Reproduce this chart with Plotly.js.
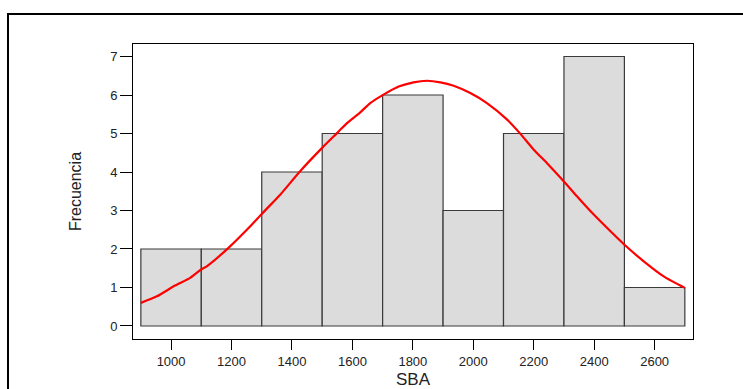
<!DOCTYPE html>
<html>
<head>
<meta charset="utf-8">
<script src="https://cdn.plot.ly/plotly-3.0.1.min.js"></script>
<style>
  html, body { margin: 0; padding: 0; background: #fff; overflow: hidden; }
  #frame { position: absolute; left: 7px; top: 13px; width: 800px; height: 500px;
           border-top: 2px solid #000; border-left: 2px solid #000; pointer-events: none; }
  #chart { position: absolute; left: 0; top: 0; width: 743px; height: 389px; }
</style>
</head>
<body>
<div id="chart"></div>
<div id="frame"></div>
<script>
// Histogram bins (centres) and counts
const binCenters = [1000, 1200, 1400, 1600, 1800, 2000, 2200, 2400, 2600];
const counts = [2, 2, 4, 5, 6, 3, 5, 7, 1];
const binWidth = 200;

// Fitted curve points
const curveX = [900, 953, 1013, 1063, 1098, 1118, 1190, 1262, 1300, 1361, 1427, 1499, 1549, 1582, 1626, 1659, 1703, 1753, 1802, 1847, 1891, 1935, 1990, 2045, 2112, 2156, 2200, 2244, 2305, 2343, 2393, 2454, 2503, 2564, 2630, 2700];
const curveY = [0.60, 0.77, 1.05, 1.25, 1.46, 1.55, 2.03, 2.59, 2.91, 3.41, 4.02, 4.62, 5.01, 5.27, 5.55, 5.79, 6.01, 6.22, 6.33, 6.37, 6.33, 6.24, 6.05, 5.79, 5.36, 4.99, 4.58, 4.23, 3.71, 3.37, 2.94, 2.46, 2.09, 1.68, 1.29, 0.99];

const xTicks = [1000, 1200, 1400, 1600, 1800, 2000, 2200, 2400, 2600];
const yTicks = [0, 1, 2, 3, 4, 5, 6, 7];

const traces = [
  {
    type: 'bar',
    x: binCenters,
    y: counts,
    width: binCenters.map(() => binWidth),
    marker: { color: '#dcdcdc', line: { color: '#3a3a3a', width: 1.2 } },
    hoverinfo: 'x+y',
    showlegend: false
  },
  {
    type: 'scatter',
    mode: 'lines',
    x: curveX,
    y: curveY,
    line: { color: '#ff0000', width: 2.2, shape: 'spline', smoothing: 0.6 },
    showlegend: false
  }
];

const fontFam = 'Liberation Sans, Arial, sans-serif';
const layout = {
  width: 743,
  height: 389,
  margin: { l: 133, r: 50, t: 44, b: 50 },
  paper_bgcolor: '#fff',
  plot_bgcolor: '#fff',
  bargap: 0,
  font: { family: fontFam, size: 13, color: '#222' },
  xaxis: {
    range: [874, 2727],
    tickvals: xTicks,
    ticktext: xTicks.map(String),
    ticks: 'outside',
    ticklen: 10,
    tickwidth: 1,
    tickcolor: '#000',
    showline: true,
    mirror: true,
    linecolor: '#000',
    linewidth: 1,
    showgrid: false,
    zeroline: false,
    tickfont: { family: fontFam, size: 13, color: '#222' },
    title: { text: 'SBA', font: { family: fontFam, size: 17, color: '#222' }, standoff: 9 }
  },
  yaxis: {
    range: [-0.338, 7.325],
    tickvals: yTicks,
    ticktext: yTicks.map(String),
    ticks: 'outside',
    ticklen: 12,
    tickwidth: 1,
    tickcolor: '#000',
    showline: true,
    mirror: true,
    linecolor: '#000',
    linewidth: 1,
    showgrid: false,
    zeroline: false,
    tickfont: { family: fontFam, size: 13, color: '#222' },
    title: { text: 'Frecuencia', font: { family: fontFam, size: 16, color: '#222' }, standoff: 24 }
  }
};

Plotly.newPlot('chart', traces, layout, { displayModeBar: false, staticPlot: true });
</script>
</body>
</html>
